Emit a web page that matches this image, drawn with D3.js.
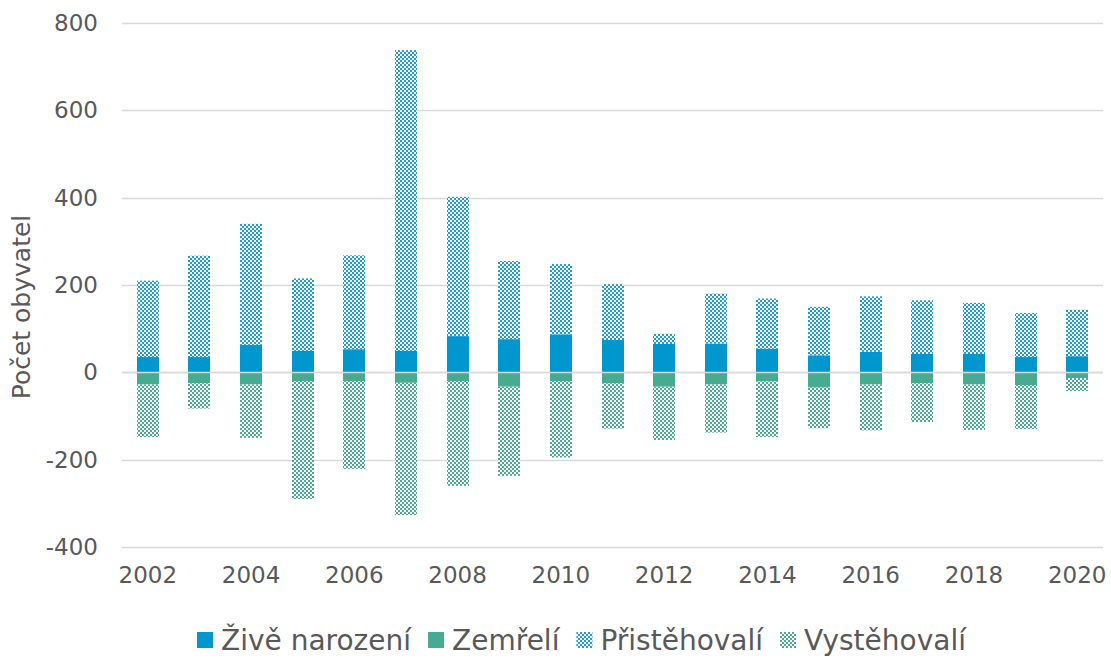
<!DOCTYPE html>
<html>
<head>
<meta charset="utf-8">
<script src="https://cdn.jsdelivr.net/npm/d3@7"></script>
<style>
  body { margin: 0; background: #fff; }
  text { font-family: "DejaVu Sans", Verdana, sans-serif; fill: #595959; }
</style>
</head>
<body>
<div id="chart"></div>
<script>

// data
var years = [2002, 2003, 2004, 2005, 2006, 2007, 2008, 2009, 2010, 2011,
             2012, 2013, 2014, 2015, 2016, 2017, 2018, 2019, 2020];
var births     = [35, 35, 63, 49, 53, 49, 83, 76, 87, 74, 65, 66, 54, 39, 47, 42, 42, 35, 37];
var immigrants = [175, 232, 277, 166, 215, 689, 319, 179, 161, 128, 23, 114, 115, 111, 127, 123, 117, 101, 106];
var deaths     = [28, 25, 28, 20, 20, 24, 20, 33, 20, 25, 33, 28, 21, 35, 28, 25, 28, 29, 13];
var emigrants  = [120, 58, 122, 270, 201, 303, 240, 204, 175, 104, 122, 110, 127, 93, 105, 89, 104, 101, 30];
var yTicks = [-400, -200, 0, 200, 400, 600, 800];
var seriesNames = ["Živě narození", "Zemřelí", "Přistěhovalí", "Vystěhovalí"];

var width = 1111, height = 660;
var margin = {top: 23, right: 8, bottom: 113, left: 122};

var svg = d3.select("#chart").append("svg")
    .attr("width", width)
    .attr("height", height);

// checker patterns
var defs = svg.append("defs");
function checker(id, color) {
  var p = defs.append("pattern")
      .attr("id", id)
      .attr("patternUnits", "userSpaceOnUse")
      .attr("width", 4).attr("height", 4);
  p.append("rect").attr("width", 4).attr("height", 4).attr("fill", "#fff");
  p.append("rect").attr("width", 2).attr("height", 2).attr("fill", color);
  p.append("rect").attr("x", 2).attr("y", 2).attr("width", 2).attr("height", 2).attr("fill", color);
}
checker("patBlue", "#1b9dd8");
checker("patGreen", "#49ac91");

var colors = ["#0097cf", "#46ab90", "url(#patBlue)", "url(#patGreen)"];

var rows = years.map(function(y, i) {
  return {year: y, b: births[i], d: -deaths[i], im: immigrants[i], em: -emigrants[i]};
});
var keys = ["b", "d", "im", "em"];

var stack = d3.stack().keys(keys).offset(d3.stackOffsetDiverging);
var series = stack(rows);

var x = d3.scaleBand()
    .domain(years)
    .range([margin.left, width - margin.right])
    .paddingInner(0.575)
    .paddingOuter(0.2875);

var y = d3.scaleLinear()
    .domain([-400, 800])
    .range([height - margin.bottom, margin.top]);

// gridlines
svg.append("g")
  .selectAll("line")
  .data(yTicks)
  .enter().append("line")
    .attr("x1", margin.left)
    .attr("x2", width - margin.right)
    .attr("y1", function(d) { return Math.round(y(d)) + 0.5; })
    .attr("y2", function(d) { return Math.round(y(d)) + 0.5; })
    .attr("stroke", "#d9d9d9")
    .attr("stroke-width", 1.5);

// bars
svg.append("g")
  .selectAll("g")
  .data(series)
  .enter().append("g")
    .attr("fill", function(d, i) { return colors[i]; })
  .selectAll("rect")
  .data(function(d) { return d; })
  .enter().append("rect")
    .attr("x", function(d) { return Math.round(x(d.data.year)); })
    .attr("width", Math.round(x.bandwidth()))
    .attr("y", function(d) { return y(Math.max(d[0], d[1])); })
    .attr("height", function(d) { return Math.abs(y(d[0]) - y(d[1])); });

// zero line on top
svg.append("line")
    .attr("x1", margin.left)
    .attr("x2", width - margin.right)
    .attr("y1", Math.round(y(0)) + 0.5)
    .attr("y2", Math.round(y(0)) + 0.5)
    .attr("stroke", "#d9d9d9")
    .attr("stroke-width", 1.5);

// y axis labels (plain hyphen for negatives)
var yAxis = d3.axisLeft(y).tickValues(yTicks).tickSize(0).tickPadding(24)
    .tickFormat(function(d) { return String(d); });
svg.append("g")
    .attr("transform", "translate(" + margin.left + ",0)")
    .call(yAxis)
    .call(function(g) { g.select(".domain").remove(); })
    .selectAll("text")
      .style("font-size", "23px")
      .attr("fill", "#595959");

// x axis labels, every second year
var xAxis = d3.axisBottom(x)
    .tickValues(years.filter(function(d, i) { return i % 2 === 0; }))
    .tickSize(0).tickPadding(20);
svg.append("g")
    .attr("transform", "translate(0," + (height - margin.bottom) + ")")
    .call(xAxis)
    .call(function(g) { g.select(".domain").remove(); })
    .selectAll("text")
      .style("font-size", "23px")
      .attr("fill", "#595959");

// y title
svg.append("text")
    .attr("transform", "translate(30,307) rotate(-90)")
    .attr("text-anchor", "middle")
    .style("font-size", "25px")
    .text("Počet obyvatel");

// legend
var legend = svg.append("g").attr("transform", "translate(0,640)");
var xPos = 197;
seriesNames.forEach(function(name, i) {
  legend.append("rect")
      .attr("x", xPos).attr("y", -8)
      .attr("width", 16).attr("height", 16)
      .attr("fill", colors[i]);
  var t = legend.append("text")
      .attr("x", xPos + 24)
      .attr("y", 0)
      .attr("dy", "0.36em")
      .style("font-size", "28px")
      .text(name);
  xPos += 24 + t.node().getComputedTextLength() + 17;
});

</script>
</body>
</html>
